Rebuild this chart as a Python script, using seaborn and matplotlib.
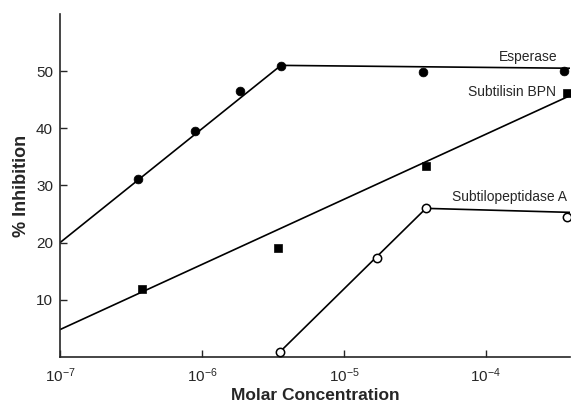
import numpy as np
import pandas as pd
import seaborn as sns
from matplotlib import pyplot as plt
from matplotlib.ticker import LogLocator, NullLocator

# measured points (molar concentration, % inhibition)
esperase_x = [3.54e-7, 8.9e-7, 1.85e-6, 3.6e-6, 3.6e-5, 3.54e-4]
esperase_y = [31.2, 39.5, 46.5, 50.9, 49.8, 50.0]
bpn_x = [3.78e-7, 3.43e-6, 3.78e-5, 3.7e-4]
bpn_y = [11.9, 19.0, 33.4, 46.1]
subA_x = [3.54e-6, 1.7e-5, 3.78e-5, 3.7e-4]
subA_y = [0.9, 17.3, 26.0, 24.5]

# drawn fit lines
esperase_fit_x = [1e-7, 3.6e-6, 3.9e-4]
esperase_fit_y = [20.0, 51.0, 50.5]
bpn_fit_x = [1e-7, 3.9e-4]
bpn_fit_y = [4.8, 45.7]
subA_fit_x = [3.54e-6, 3.78e-5, 3.9e-4]
subA_fit_y = [0.9, 26.0, 25.3]

sns.set_style("ticks")
plt.rcParams['font.family'] = ['Liberation Sans', 'DejaVu Sans']

fig = plt.figure(figsize=(5.71, 4.09), dpi=100)
ax = fig.add_axes([0.105, 0.127, 0.893, 0.839])

fits = [(esperase_fit_x, esperase_fit_y), (bpn_fit_x, bpn_fit_y), (subA_fit_x, subA_fit_y)]
for fx, fy in fits:
    sns.lineplot(x=fx, y=fy, ax=ax, color='black', lw=1.2, sort=False)

sns.scatterplot(x=esperase_x, y=esperase_y, ax=ax, marker='o', s=40,
                color='black', edgecolor='black', zorder=3)
sns.scatterplot(x=bpn_x, y=bpn_y, ax=ax, marker='s', s=36,
                color='black', edgecolor='black', zorder=3)
sns.scatterplot(x=subA_x, y=subA_y, ax=ax, marker='o', s=36,
                color='white', edgecolor='black', linewidth=1.1, zorder=3)

ax.set_xscale('log')
ax.set_xlim(1e-7, 3.9e-4)
ax.set_ylim(0, 60)
ax.xaxis.set_major_locator(LogLocator(base=10, numticks=10))
ax.xaxis.set_minor_locator(NullLocator())
ax.set_yticks([10, 20, 30, 40, 50])

ax.tick_params(axis='both', direction='in', length=5, width=1, labelsize=11)
ax.tick_params(axis='x', pad=7)
ax.tick_params(axis='y', pad=5)
sns.despine(ax=ax)
for sp in ax.spines.values():
    sp.set_linewidth(1.2)

ax.text(3.2e-4, 52.4, 'Esperase', ha='right', va='center', fontsize=10)
ax.text(3.1e-4, 46.3, 'Subtilisin BPN', ha='right', va='center', fontsize=10)
ax.text(3.75e-4, 27.9, 'Subtilopeptidase A', ha='right', va='center', fontsize=10)

ax.set_xlabel('Molar Concentration', fontsize=12.5, fontweight='bold', labelpad=2)
ax.set_ylabel('% Inhibition', fontsize=13, fontweight='bold', labelpad=4)

fig.savefig('out.png', dpi=100)
